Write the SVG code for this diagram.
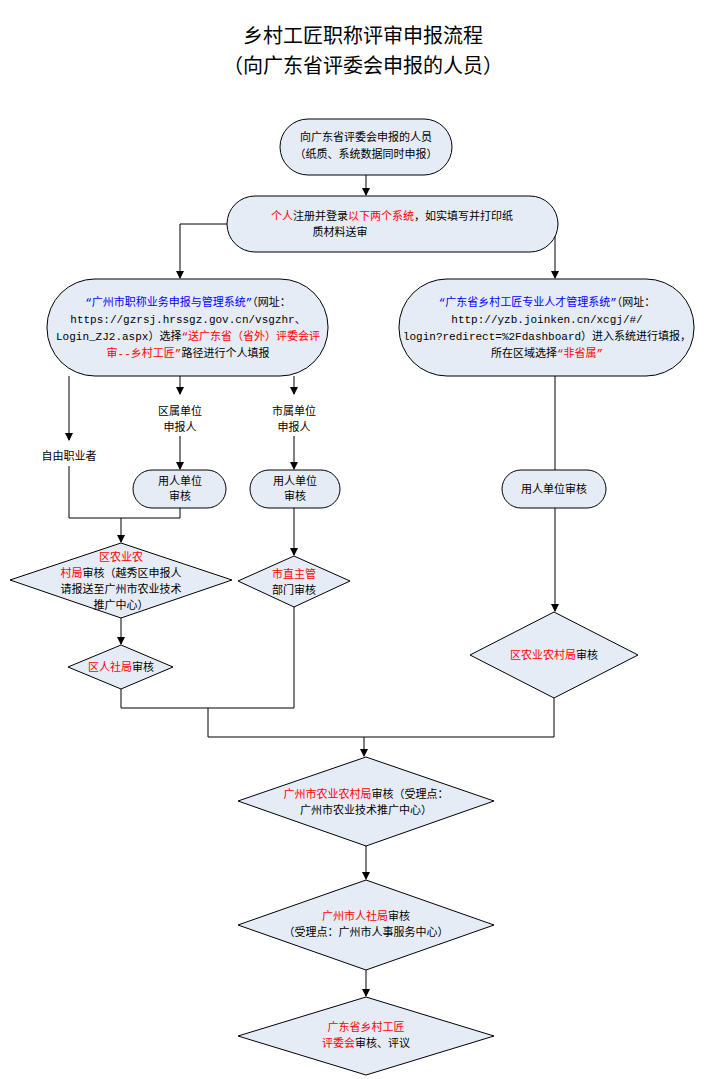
<svg xmlns="http://www.w3.org/2000/svg" width="725" height="1079" viewBox="0 0 725 1079">
<defs>
<marker id="a" markerWidth="8" markerHeight="8" refX="7" refY="4" orient="auto" markerUnits="userSpaceOnUse"><path d="M0,0 L8,4 L0,8 z" fill="#000"/></marker>
<style>
.n{fill:#e6ecf6;stroke:#000;stroke-width:1}
text{font-family:"Liberation Mono","Noto Sans CJK SC",monospace;font-size:11px;text-anchor:middle;fill:#000}
.r{fill:#ff0000}.b{fill:#0000ff}
.t{font-family:"Noto Sans CJK SC",sans-serif;font-size:20px}
.c{fill:none;stroke:#000;stroke-width:1}
</style>
</defs>
<rect width="725" height="1079" fill="#fff"/>
<text class="t" x="363" y="43">乡村工匠职称评审申报流程</text>
<text class="t" x="363" y="73">（向广东省评委会申报的人员）</text>
<g id="connectors" class="c">
<path d="M366,175 V195" marker-end="url(#a)"/>
<path d="M227,224 H180 V278" marker-end="url(#a)"/>
<path d="M558,224 H555 V278" marker-end="url(#a)"/>
<path d="M69,376 V440" marker-end="url(#a)"/>
<path d="M180,376 V394" marker-end="url(#a)"/>
<path d="M294,376 V394" marker-end="url(#a)"/>
<path d="M180,436 V469" marker-end="url(#a)"/>
<path d="M294,436 V469" marker-end="url(#a)"/>
<path d="M69,466 V518 H180 V508"/>
<path d="M121,518 V542" marker-end="url(#a)"/>
<path d="M294,508 V555" marker-end="url(#a)"/>
<path d="M121,618 V644" marker-end="url(#a)"/>
<path d="M555,376 V470"/>
<path d="M555,508 V611" marker-end="url(#a)"/>
<path d="M121,689 V708 H294 V607"/>
<path d="M208,708 V737 H554 V698"/>
<path d="M364,737 V756" marker-end="url(#a)"/>
<path d="M366,846 V879" marker-end="url(#a)"/>
<path d="M366,970 V996" marker-end="url(#a)"/>
</g>
<g id="start"><rect class="n" x="280" y="119" width="172" height="56" rx="28"/>
<text x="366" y="141">向广东省评委会申报的人员</text><text x="366" y="158">（纸质、系统数据同时申报）</text></g>
<g id="register"><rect class="n" x="227" y="196" width="331" height="56" rx="28"/>
<text x="392" y="220"><tspan class="r">个人</tspan>注册并登录<tspan class="r">以下两个系统</tspan>，如实填写并打印纸</text>
<text x="340" y="236">质材料送审</text></g>
<g id="sysgz"><rect class="n" x="47" y="279" width="281" height="97" rx="48"/>
<text x="188" y="306"><tspan class="b">“广州市职称业务申报与管理系统”</tspan>（网址：</text>
<text x="188" y="323">https://gzrsj.hrssgz.gov.cn/vsgzhr、</text>
<text x="188" y="340">Login_ZJ2.aspx）选择<tspan class="r">“送广东省（省外）评委会评</tspan></text>
<text x="188" y="357"><tspan class="r">审--乡村工匠”</tspan>路径进行个人填报</text></g>
<g id="sysgd"><rect class="n" x="399" y="279" width="295" height="97" rx="48"/>
<text x="547" y="306"><tspan class="b">“广东省乡村工匠专业人才管理系统”</tspan>（网址：</text>
<text x="547" y="323">http://yzb.joinken.cn/xcgj/#/</text>
<text x="547" y="340">login?redirect=%2Fdashboard）进入系统进行填报，</text>
<text x="547" y="357">所在区域选择<tspan class="r">“非省属”</tspan></text></g>
<g id="lbl1"><text x="180" y="415">区属单位</text><text x="180" y="431">申报人</text></g>
<g id="lbl2"><text x="294" y="415">市属单位</text><text x="294" y="431">申报人</text></g>
<g id="lbl3"><text x="69" y="460">自由职业者</text></g>
<g id="emp1"><rect class="n" x="133" y="470" width="93" height="38" rx="19"/><text x="180" y="485">用人单位</text><text x="180" y="500">审核</text></g>
<g id="emp2"><rect class="n" x="250" y="470" width="90" height="38" rx="19"/><text x="295" y="485">用人单位</text><text x="295" y="500">审核</text></g>
<g id="emp3"><rect class="n" x="502" y="470" width="104" height="38" rx="19"/><text x="554" y="493">用人单位审核</text></g>
<g id="d1"><polygon class="n" points="121,543 232,580 121,618 10,580"/>
<text x="121" y="561" class="r">区农业农</text>
<text x="121" y="577"><tspan class="r">村局</tspan>审核（越秀区申报人</text>
<text x="121" y="593">请报送至广州市农业技术</text>
<text x="121" y="609">推广中心）</text></g>
<g id="d2"><polygon class="n" points="121,645 173,667 121,689 68,667"/><text x="121" y="671"><tspan class="r">区人社局</tspan>审核</text></g>
<g id="d3"><polygon class="n" points="294,556 350,581 294,607 238,581"/><text x="294" y="578" class="r">市直主管</text><text x="294" y="594">部门审核</text></g>
<g id="d4"><polygon class="n" points="554,612 638,655 554,698 470,655"/><text x="554" y="659"><tspan class="r">区农业农村局</tspan>审核</text></g>
<g id="d5"><polygon class="n" points="366,757 494,801 366,846 238,801"/><text x="366" y="798"><tspan class="r">广州市农业农村局</tspan>审核（受理点：</text><text x="366" y="814">广州市农业技术推广中心）</text></g>
<g id="d6"><polygon class="n" points="366,880 494,925 366,970 238,925"/><text x="366" y="920"><tspan class="r">广州市人社局</tspan>审核</text><text x="366" y="936">（受理点：广州市人事服务中心）</text></g>
<g id="d7"><polygon class="n" points="366,997 494,1036 366,1075 238,1036"/><text x="366" y="1031" class="r">广东省乡村工匠</text><text x="366" y="1047"><tspan class="r">评委会</tspan>审核、评议</text></g>
</svg>
